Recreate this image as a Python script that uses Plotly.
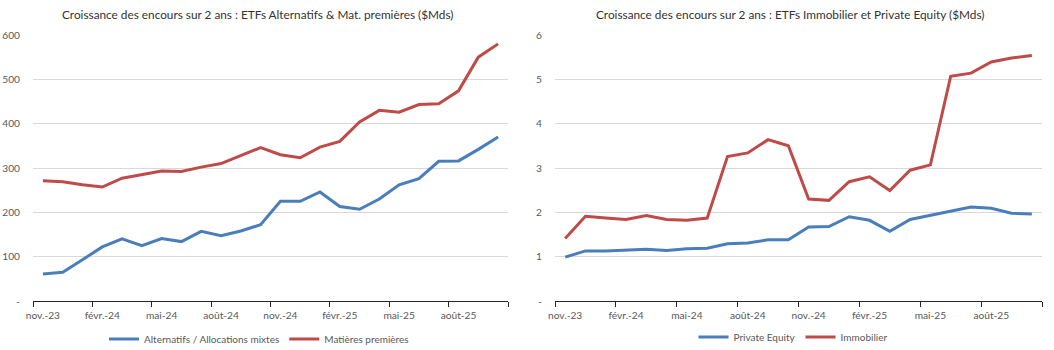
import plotly.graph_objects as go

months = ["nov.-23", "déc.-23", "janv.-24", "févr.-24", "mars-24", "avr.-24", "mai-24", "juin-24",
          "juil.-24", "août-24", "sept.-24", "oct.-24", "nov.-24", "déc.-24", "janv.-25", "févr.-25",
          "mars-25", "avr.-25", "mai-25", "juin-25", "juil.-25", "août-25", "sept.-25", "oct.-25"]

alternatifs = [61, 65, 93, 122, 140, 125, 141, 134, 157, 147, 158, 172,
               225, 225, 246, 213, 207, 230, 262, 276, 315, 316, 342, 370]
matieres = [271, 269, 262, 257, 277, 285, 293, 292, 302, 310, 328, 346,
            330, 323, 347, 360, 404, 430, 426, 443, 445, 474, 550, 580]

private_equity = [0.99, 1.13, 1.13, 1.15, 1.17, 1.14, 1.18, 1.19, 1.29, 1.31, 1.38, 1.38,
                  1.67, 1.68, 1.90, 1.82, 1.57, 1.84, 1.93, 2.02, 2.12, 2.09, 1.98, 1.96]
immobilier = [1.41, 1.91, 1.87, 1.84, 1.93, 1.84, 1.82, 1.87, 3.26, 3.34, 3.64, 3.50,
              2.30, 2.27, 2.69, 2.80, 2.49, 2.95, 3.07, 5.07, 5.14, 5.39, 5.48, 5.54]

left_yticks = [0, 100, 200, 300, 400, 500, 600]
right_yticks = [0, 1, 2, 3, 4, 5, 6]

title_left = "Croissance des encours sur 2 ans : ETFs Alternatifs & Mat. premières ($Mds)"
title_right = "Croissance des encours sur 2 ans : ETFs Immobilier et Private Equity ($Mds)"

BLUE = "#4A7EBB"
RED = "#BE4B48"
FONT = "Lato, sans-serif"
W, H = 1054, 350

x_idx = list(range(len(months)))

fig = go.Figure()
fig.add_trace(go.Scatter(x=x_idx, y=alternatifs, mode="lines", name="Alternatifs / Allocations mixtes",
                         line=dict(color=BLUE, width=3), xaxis="x", yaxis="y", legend="legend"))
fig.add_trace(go.Scatter(x=x_idx, y=matieres, mode="lines", name="Matières premières",
                         line=dict(color=RED, width=3), xaxis="x", yaxis="y", legend="legend"))
fig.add_trace(go.Scatter(x=x_idx, y=private_equity, mode="lines", name="Private Equity",
                         line=dict(color=BLUE, width=3), xaxis="x2", yaxis="y2", legend="legend2"))
fig.add_trace(go.Scatter(x=x_idx, y=immobilier, mode="lines", name="Immobilier",
                         line=dict(color=RED, width=3), xaxis="x2", yaxis="y2", legend="legend2"))

def xaxis_cfg(d0, d1, anchor):
    return dict(
        domain=[d0 / W, d1 / W], anchor=anchor,
        range=[-0.5, len(months) - 0.5],
        tickmode="array", tickvals=x_idx[::3], ticktext=months[::3],
        ticks="", showgrid=False, zeroline=False,
        showline=True, linecolor="#262626", linewidth=1.3,
        tickfont=dict(family=FONT, size=10.2, color="#595959"),
        ticklabelstandoff=5,
        minor=dict(ticks="outside", tick0=-0.5, dtick=3, ticklen=5, tickcolor="#262626",
                   tickwidth=1.3, showgrid=False),
        fixedrange=True,
    )

def yaxis_cfg(ticks, anchor):
    return dict(
        domain=[1 - 301 / H, 1 - 35 / H], anchor=anchor,
        range=[ticks[0], ticks[-1]],
        tickmode="array", tickvals=ticks,
        ticktext=["-"] + [str(t) for t in ticks[1:]],
        showgrid=True, gridcolor="#D9D9D9", gridwidth=1,
        zeroline=False, showline=False, ticks="",
        tickfont=dict(family=FONT, size=10.2, color="#595959"),
        ticklabelstandoff=12,
        fixedrange=True,
    )

fig.update_layout(
    width=W, height=H,
    margin=dict(l=0, r=0, t=0, b=0, autoexpand=False),
    paper_bgcolor="white", plot_bgcolor="white",
    font=dict(family=FONT, color="#595959"),
    xaxis=xaxis_cfg(33, 508, "y"),
    yaxis=yaxis_cfg(left_yticks, "x"),
    xaxis2=xaxis_cfg(555, 1042, "y2"),
    yaxis2=yaxis_cfg(right_yticks, "x2"),
    legend=dict(orientation="h", x=259 / W, y=1 - 339 / H, xanchor="center", yanchor="middle",
                font=dict(family=FONT, size=10, color="#595959"), itemwidth=30,
                bgcolor="rgba(0,0,0,0)", traceorder="normal"),
    legend2=dict(orientation="h", x=793 / W, y=1 - 337 / H, xanchor="center", yanchor="middle",
                 font=dict(family=FONT, size=10, color="#595959"), itemwidth=30,
                 bgcolor="rgba(0,0,0,0)", traceorder="normal"),
    annotations=[
        dict(text=title_left, x=257 / W, y=1 - 14 / H, xref="paper", yref="paper",
             xanchor="center", yanchor="middle", showarrow=False,
             font=dict(family=FONT, size=11.8, color="#333333")),
        dict(text=title_right, x=790 / W, y=1 - 14 / H, xref="paper", yref="paper",
             xanchor="center", yanchor="middle", showarrow=False,
             font=dict(family=FONT, size=11.8, color="#333333")),
    ],
)

fig.write_html("out.html")
